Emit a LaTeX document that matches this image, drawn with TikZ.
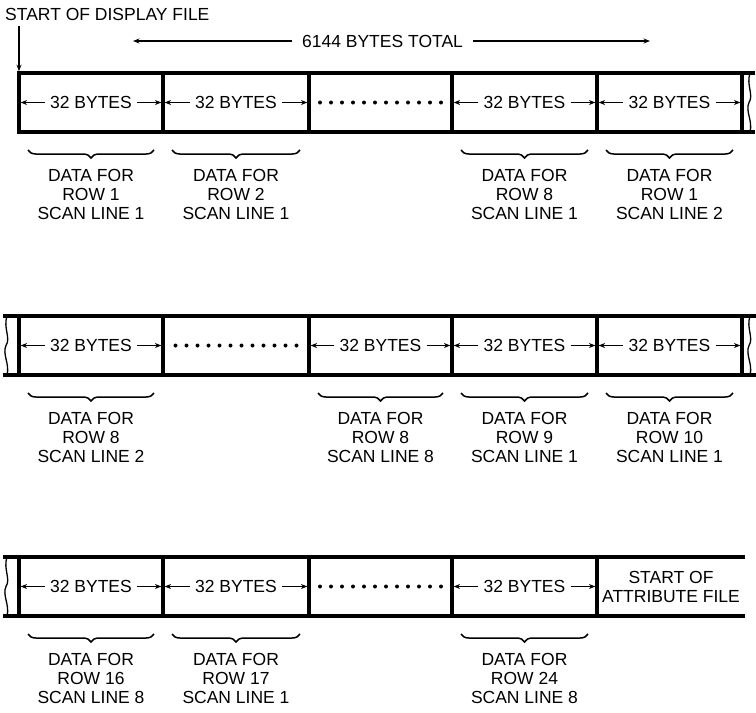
\documentclass[tikz,border=0pt]{standalone}
\usepackage{fontspec}
\setmainfont{Liberation Sans}
\usetikzlibrary{positioning,arrows.meta,decorations.pathreplacing}

\tikzset{
  cell/.style={draw, line width=3.2pt, minimum height=59pt, inner sep=0pt, outer sep=0pt},
  opencell/.style={minimum height=59pt, inner sep=0pt, outer sep=0pt},
  txt/.style={font=\fontsize{17.5}{19}\selectfont, inner sep=0pt, align=center},
  bytes/.style={txt, inner xsep=5pt},
  arr/.style={line width=1.2pt, -{Stealth[length=6.5pt,width=5pt]}},
  brc/.style={line width=1.5pt, decorate, decoration={brace, mirror, amplitude=8pt}},
  rail/.style={line width=3.6pt},
  wave/.style={line width=1.3pt},
}

\begin{document}
\begin{tikzpicture}[x=1pt,y=1pt]
\useasboundingbox (0,0) rectangle (756,-713);
% A) rails and break marks
\draw[rail] (19,-73) -- (755,-73); \draw[rail] (19,-132) -- (755,-132);
\draw[rail] (3,-316) -- (756,-316); \draw[rail] (3,-375) -- (756,-375);
\draw[rail] (3,-557) -- (745,-557); \draw[rail] (3,-616) -- (745,-616);
\foreach \t in {-73,-316}
  \draw[wave] (750,\t) .. controls (746,\t-12) and (754,\t-22) .. (749,\t-29.5)
    .. controls (745,\t-38) and (753,\t-48) .. (750,\t-59);
\foreach \t in {-316,-557}
  \draw[wave] (7,\t) .. controls (3,\t-12) and (11,\t-22) .. (6,\t-29.5)
    .. controls (2,\t-38) and (10,\t-48) .. (7,\t-59);
% B) cells
\foreach \r/\y in {1/-102.5,2/-345.5,3/-586.5}
  \foreach \c/\xa/\xb in {1/19/163,2/163/309,3/309/452,4/452/597}
    \node[cell, minimum width=\xb-\xa] (c\r\c) at ({(\xa+\xb)/2},\y) {};
\node[cell, minimum width=145] (c15) at (669.5,-102.5) {};
\node[cell, minimum width=145] (c25) at (669.5,-345.5) {};
\node[opencell, minimum width=148] (c35) at (671,-586.5) {};
\node[txt] (attr) at (c35) {START OF\\ATTRIBUTE FILE};
% C) 32 bytes arrows and dots
\foreach \n in {11,12,14,15,21,23,24,25,31,32,34} {
  \node[bytes] (b\n) at (c\n) {32 BYTES};
  \draw[arr, shorten >=1.6pt] (b\n.west) -- (c\n.west);
  \draw[arr, shorten >=1.6pt] (b\n.east) -- (c\n.east);
}
\foreach \n in {13,22,33}
  \foreach \i in {0,...,11}
    \fill ([xshift=(\i-5.5)*11pt]c\n.center) circle (2pt);
% D) braces and labels
\foreach \n/\rw/\sl in {11/1/1,12/2/1,14/8/1,15/1/2,21/8/2,23/8/8,24/9/1,25/10/1,31/16/8,32/17/1,34/24/8} {
  \draw[brc] ([xshift=9pt,yshift=-18pt]c\n.south west) -- ([xshift=-9pt,yshift=-18pt]c\n.south east);
  \node[txt, below=37pt of c\n.south] (d\n) {DATA FOR\\ROW \rw\\SCAN LINE \sl};
}
% E) header
\node[txt, anchor=west] (sdf) at (5,-14) {START OF DISPLAY FILE};
\draw[arr, shorten <=6pt, shorten >=1.8pt] (sdf.south -| c11.north west) -- (c11.north west);
\node[txt, inner xsep=10pt] (tot) at (382.5,-41) {6144 BYTES TOTAL};
\coordinate (totl) at (133,-41);
\coordinate (totr) at (650,-41);
\draw[arr] (tot.west) -- (totl);
\draw[arr] (tot.east) -- (totr);
\end{tikzpicture}
\end{document}
